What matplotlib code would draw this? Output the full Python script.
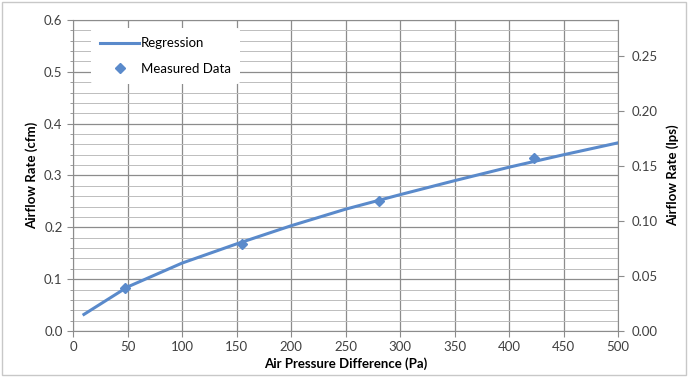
import numpy as np
import matplotlib.pyplot as plt
from matplotlib.patches import Rectangle

plt.rcParams['font.family'] = ['Lato', 'DejaVu Sans']

# regression curve, read at regular pressure steps
reg_pa = [10, 50, 100, 150, 200, 250, 300, 350, 400, 450, 500]
reg_cfm = [0.032, 0.085, 0.131, 0.168, 0.203, 0.235, 0.263, 0.290, 0.316, 0.340, 0.363]

# measured points
meas_pa = [48, 155, 281, 423]
meas_cfm = [0.083, 0.167, 0.250, 0.333]

CFM_TO_LPS = 0.4719
blue = '#5A8ACB'

fig = plt.figure(figsize=(6.89, 3.77), dpi=100)
ax = fig.add_axes([0.106, 0.122, 0.791, 0.825])

ax.plot(reg_pa, reg_cfm, color=blue, lw=2.2, label='Regression', zorder=3)
ax.plot(meas_pa, meas_cfm, 'D', color=blue, ms=5.5, ls='none', label='Measured Data', zorder=4)

ax.set_xlim(0, 500)
ax.set_ylim(0, 0.6)
ax.set_xticks(np.arange(0, 501, 50))
ax.set_yticks(np.arange(0, 0.61, 0.1))
ax.set_yticks(np.arange(0, 0.61, 0.02), minor=True)
ax.set_yticklabels(['%.1f' % v for v in np.arange(0, 0.61, 0.1)])
ax.grid(which='major', color='#8c8c8c', lw=0.9)
ax.grid(which='minor', axis='y', color='#bdbdbd', lw=0.7)
ax.set_axisbelow(True)
for s in ax.spines.values():
    s.set_color('#8c8c8c')
ax.tick_params(which='both', colors='#8c8c8c', labelcolor='#404040', labelsize=9.5, length=4)
ax.tick_params(which='minor', length=2)

ax.set_xlabel('Air Pressure Difference (Pa)', fontsize=9.5, fontweight='bold', labelpad=3)
ax.set_ylabel('Airflow Rate (cfm)', fontsize=9.5, fontweight='bold', labelpad=4)

ax2 = ax.twinx()
ax2.set_ylim(0, 0.6 * CFM_TO_LPS)
ax2.set_yticks(np.arange(0, 0.26, 0.05))
ax2.set_yticklabels(['%.2f' % v for v in np.arange(0, 0.26, 0.05)])
for s in ax2.spines.values():
    s.set_visible(False)
ax2.tick_params(colors='#8c8c8c', labelcolor='#404040', labelsize=9.5, length=4, pad=6)
ax2.set_ylabel('Airflow Rate (lps)', fontsize=9.5, fontweight='bold', labelpad=6)

leg = ax.legend(loc='upper left', bbox_to_anchor=(0.02, 0.995), frameon=True,
                fontsize=9.5, handlelength=3.0, borderpad=0.7, labelspacing=1.0,
                handletextpad=0.1)
leg.get_frame().set_edgecolor('none')
leg.get_frame().set_facecolor('white')
leg.get_frame().set_alpha(1)
leg.set_zorder(5)

fig.patches.append(Rectangle((0.003, 0.004), 0.992, 0.99, transform=fig.transFigure,
                             fill=False, edgecolor='#c8c8c8', lw=1))

fig.savefig('out.png', dpi=100)
